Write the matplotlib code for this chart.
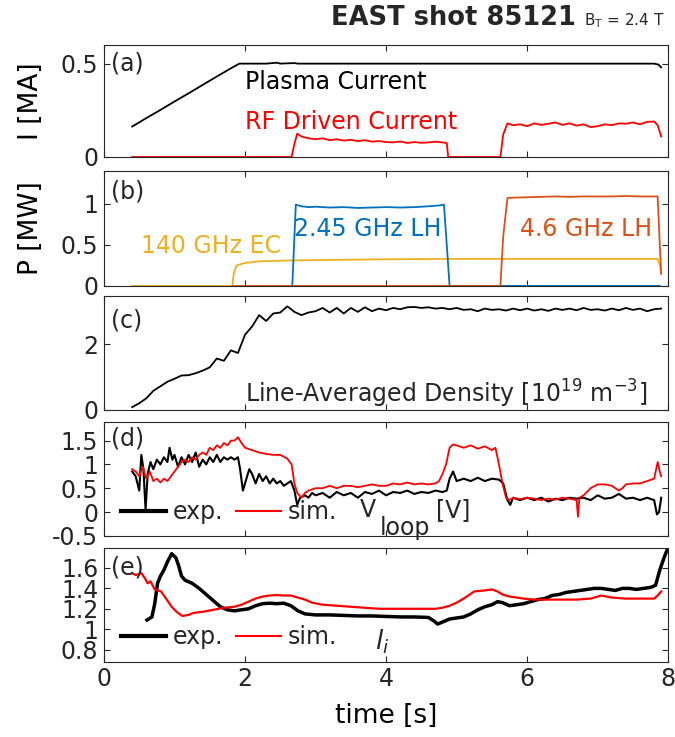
import numpy as np
import matplotlib
matplotlib.use('Agg')
from matplotlib import pyplot as plt
from matplotlib.ticker import FormatStrFormatter

# ---------------- (a) currents [MA] ----------------
t_ip = [0.40, 0.60, 0.80, 1.00, 1.20, 1.40, 1.60, 1.80, 1.92, 2.30, 2.45, 2.50, 2.70, 2.75, 3.00,
        4.00, 5.00, 6.00, 7.00, 7.80, 7.86, 7.90]
ip = [0.163, 0.208, 0.252, 0.297, 0.341, 0.386, 0.431, 0.475, 0.500, 0.500, 0.505, 0.500, 0.503,
      0.500, 0.500, 0.500, 0.500, 0.500, 0.500, 0.500, 0.495, 0.480]

t_rf = [0.40, 2.66, 2.70, 2.74, 2.80, 2.90, 3.00, 3.10, 3.20, 3.30, 3.40, 3.50, 3.60, 3.70, 3.80,
        3.90, 4.00, 4.10, 4.20, 4.30, 4.40, 4.50, 4.60, 4.70, 4.80, 4.86, 4.88, 5.62, 5.66, 5.72,
        5.80, 5.90, 6.00, 6.10, 6.20, 6.30, 6.40, 6.50, 6.60, 6.70, 6.80, 6.90, 7.00, 7.10, 7.20,
        7.30, 7.40, 7.50, 7.60, 7.70, 7.80, 7.85, 7.90]
i_rf = [0.0, 0.0, 0.07, 0.125, 0.11, 0.10, 0.095, 0.10, 0.09, 0.095, 0.088, 0.092, 0.085, 0.09,
        0.082, 0.085, 0.08, 0.078, 0.083, 0.075, 0.08, 0.076, 0.078, 0.082, 0.078, 0.075, 0.0,
        0.0, 0.12, 0.18, 0.17, 0.175, 0.165, 0.18, 0.172, 0.178, 0.185, 0.172, 0.18, 0.168, 0.175,
        0.16, 0.165, 0.175, 0.17, 0.18, 0.178, 0.185, 0.175, 0.188, 0.19, 0.17, 0.11]

# ---------------- (b) heating power [MW] ----------------
t_ec = [0.40, 1.82, 1.84, 1.88, 2.00, 2.20, 2.40, 2.60, 3.00, 3.50, 4.00, 5.00, 6.00, 7.00, 7.85,
        7.88, 7.90]
p_ec = [0.0, 0.0, 0.15, 0.25, 0.28, 0.30, 0.305, 0.31, 0.315, 0.32, 0.325, 0.33, 0.33, 0.33, 0.33,
        0.25, 0.15]

t_lh245 = [2.60, 2.67, 2.72, 2.80, 2.90, 3.00, 3.20, 3.40, 3.60, 3.80, 4.00, 4.20, 4.40, 4.60,
           4.75, 4.82, 4.86, 4.90, 7.88]
p_lh245 = [0.0, 0.0, 0.99, 0.97, 0.96, 0.965, 0.955, 0.96, 0.95, 0.955, 0.96, 0.955, 0.96, 0.97,
           0.98, 0.99, 0.5, 0.0, 0.0]

t_lh46 = [1.82, 5.62, 5.66, 5.72, 5.80, 6.00, 6.20, 6.40, 6.60, 6.80, 7.00, 7.20, 7.40, 7.60,
          7.80, 7.85, 7.88, 7.90]
p_lh46 = [0.0, 0.0, 0.6, 1.07, 1.075, 1.08, 1.085, 1.09, 1.085, 1.09, 1.09, 1.09, 1.095, 1.09,
          1.09, 1.09, 0.5, 0.15]

# ---------------- (c) line averaged density [1e19 m^-3] ----------------
t_ne = [0.4, 0.5, 0.6, 0.7, 0.8, 0.9, 1.0, 1.1, 1.2, 1.3, 1.4, 1.5, 1.6, 1.7, 1.8, 1.9, 2.0, 2.1,
        2.2, 2.3, 2.4, 2.5, 2.6, 2.7, 2.8, 2.9, 3.0, 3.1, 3.2, 3.3, 3.4, 3.5, 3.6, 3.7, 3.8, 3.9,
        4.0, 4.1, 4.2, 4.3, 4.4, 4.5, 4.6, 4.7, 4.8, 4.9, 5.0, 5.1, 5.2, 5.3, 5.4, 5.5, 5.6, 5.7,
        5.8, 5.9, 6.0, 6.1, 6.2, 6.3, 6.4, 6.5, 6.6, 6.7, 6.8, 6.9, 7.0, 7.1, 7.2, 7.3, 7.4, 7.5,
        7.6, 7.7, 7.8, 7.9]
ne = [0.08, 0.20, 0.35, 0.58, 0.72, 0.86, 0.95, 1.05, 1.06, 1.12, 1.20, 1.30, 1.57, 1.50, 1.82,
      1.74, 2.30, 2.55, 2.90, 2.72, 2.95, 2.98, 3.17, 3.00, 2.90, 2.98, 3.02, 3.12, 2.98, 3.12,
      2.95, 3.12, 3.00, 3.14, 3.02, 3.10, 3.05, 3.12, 3.08, 3.14, 3.15, 3.12, 3.14, 3.10, 3.12,
      3.08, 3.12, 3.06, 3.08, 3.02, 3.10, 3.06, 3.08, 3.04, 3.10, 3.05, 3.10, 3.04, 3.08, 3.03,
      3.10, 3.06, 3.10, 3.05, 3.12, 3.06, 3.08, 3.04, 3.10, 3.05, 3.12, 3.06, 3.10, 3.02, 3.08,
      3.10]

# ---------------- (d) loop voltage [V] ----------------
t_vexp = [0.40, 0.45, 0.50, 0.53, 0.56, 0.59, 0.62, 0.66, 0.70, 0.75, 0.80, 0.85, 0.90, 0.93,
          0.97, 1.00, 1.05, 1.10, 1.15, 1.20, 1.25, 1.30, 1.35, 1.40, 1.45, 1.50, 1.55, 1.60,
          1.65, 1.70, 1.75, 1.80, 1.85, 1.90, 1.93, 1.97, 2.02, 2.06, 2.10, 2.15, 2.20, 2.25,
          2.30, 2.35, 2.40, 2.45, 2.50, 2.55, 2.60, 2.65, 2.70, 2.74, 2.78, 2.85, 2.90, 2.95,
          3.00, 3.10, 3.20, 3.30, 3.40, 3.50, 3.60, 3.70, 3.80, 3.90, 4.00, 4.10, 4.20, 4.30,
          4.40, 4.50, 4.60, 4.70, 4.80, 4.86, 4.90, 4.95, 5.00, 5.10, 5.20, 5.30, 5.40, 5.50,
          5.60, 5.66, 5.72, 5.76, 5.80, 5.90, 6.00, 6.10, 6.20, 6.30, 6.40, 6.50, 6.60, 6.70,
          6.80, 6.90, 7.00, 7.10, 7.20, 7.30, 7.40, 7.50, 7.60, 7.70, 7.80, 7.84, 7.87, 7.90]
v_exp = [0.85, 0.75, 0.45, 1.20, 0.90, 0.05, 0.80, 1.05, 0.90, 1.10, 1.00, 1.15, 1.05, 1.35,
         1.10, 1.20, 0.95, 1.15, 1.00, 1.20, 1.05, 1.25, 0.95, 1.10, 1.00, 1.15, 1.05, 1.20,
         1.05, 1.15, 1.10, 1.15, 1.10, 1.15, 0.90, 0.45, 0.70, 0.90, 0.80, 0.60, 0.80, 0.65,
         0.75, 0.60, 0.70, 0.60, 0.65, 0.55, 0.60, 0.65, 0.45, 0.15, 0.30, 0.35, 0.30, 0.40,
         0.35, 0.40, 0.30, 0.42, 0.35, 0.40, 0.30, 0.42, 0.38, 0.45, 0.35, 0.42, 0.40, 0.45,
         0.38, 0.42, 0.40, 0.45, 0.42, 0.45, 0.70, 0.85, 0.65, 0.70, 0.65, 0.72, 0.65, 0.70,
         0.68, 0.60, 0.25, 0.15, 0.30, 0.25, 0.30, 0.25, 0.30, 0.22, 0.28, 0.25, 0.30, 0.28,
         0.30, 0.25, 0.35, 0.28, 0.30, 0.38, 0.28, 0.30, 0.25, 0.30, 0.25, -0.05, 0.00, 0.30]

t_vsim = [0.40, 0.45, 0.50, 0.55, 0.60, 0.65, 0.70, 0.75, 0.80, 0.85, 0.90, 0.95, 1.00, 1.05,
          1.10, 1.15, 1.20, 1.25, 1.30, 1.35, 1.40, 1.45, 1.50, 1.55, 1.60, 1.65, 1.70, 1.75,
          1.80, 1.85, 1.90, 1.95, 2.00, 2.10, 2.20, 2.30, 2.40, 2.50, 2.60, 2.66, 2.70, 2.74,
          2.80, 2.85, 2.90, 3.00, 3.10, 3.20, 3.30, 3.40, 3.50, 3.60, 3.70, 3.80, 3.90, 4.00,
          4.10, 4.20, 4.30, 4.40, 4.50, 4.60, 4.70, 4.75, 4.80, 4.85, 4.90, 4.95, 5.00, 5.10,
          5.20, 5.30, 5.40, 5.50, 5.55, 5.60, 5.65, 5.70, 5.75, 5.80, 5.90, 6.00, 6.10, 6.20,
          6.30, 6.40, 6.50, 6.60, 6.70, 6.72, 6.74, 6.80, 6.90, 7.00, 7.10, 7.20, 7.30, 7.35,
          7.40, 7.50, 7.60, 7.70, 7.80, 7.85, 7.88, 7.90]
v_sim = [0.90, 0.85, 0.75, 0.95, 0.70, 0.85, 0.65, 0.70, 0.62, 0.70, 0.65, 0.75, 0.85, 0.95,
         1.05, 1.10, 1.05, 1.15, 1.10, 1.20, 1.25, 1.20, 1.35, 1.30, 1.40, 1.35, 1.45, 1.40,
         1.50, 1.50, 1.57, 1.45, 1.35, 1.30, 1.25, 1.22, 1.20, 1.20, 1.12, 1.00, 0.60, 0.40,
         0.30, 0.40, 0.45, 0.50, 0.50, 0.55, 0.50, 0.55, 0.55, 0.52, 0.55, 0.58, 0.55, 0.55,
         0.60, 0.58, 0.62, 0.58, 0.60, 0.58, 0.60, 0.65, 0.80, 1.00, 1.35, 1.42, 1.40, 1.35,
         1.40, 1.33, 1.38, 1.30, 1.35, 1.00, 0.60, 0.30, 0.25, 0.30, 0.27, 0.30, 0.28, 0.25,
         0.28, 0.26, 0.30, 0.28, 0.25, -0.10, 0.30, 0.35, 0.50, 0.58, 0.58, 0.55, 0.45, 0.50,
         0.58, 0.60, 0.60, 0.65, 0.70, 1.05, 0.85, 0.75]

# ---------------- (e) internal inductance ----------------
t_liexp = [0.61, 0.68, 0.72, 0.76, 0.80, 0.85, 0.90, 0.96, 1.02, 1.06, 1.10, 1.15, 1.25, 1.35,
           1.45, 1.55, 1.65, 1.75, 1.85, 1.95, 2.05, 2.15, 2.25, 2.35, 2.45, 2.55, 2.65, 2.75,
           2.85, 3.00, 3.20, 3.40, 3.60, 3.80, 4.00, 4.20, 4.40, 4.60, 4.68, 4.73, 4.80, 4.90,
           5.00, 5.10, 5.20, 5.30, 5.40, 5.50, 5.58, 5.65, 5.75, 5.85, 5.95, 6.05, 6.15, 6.25,
           6.35, 6.45, 6.55, 6.65, 6.75, 6.85, 6.95, 7.05, 7.15, 7.25, 7.35, 7.45, 7.55, 7.65,
           7.75, 7.82, 7.88, 7.94, 7.98]
li_exp = [1.09, 1.12, 1.25, 1.45, 1.52, 1.58, 1.66, 1.74, 1.70, 1.62, 1.52, 1.48, 1.45, 1.40,
          1.34, 1.28, 1.22, 1.19, 1.18, 1.19, 1.20, 1.23, 1.25, 1.255, 1.25, 1.255, 1.23, 1.18,
          1.15, 1.14, 1.14, 1.135, 1.13, 1.13, 1.125, 1.12, 1.12, 1.115, 1.08, 1.05, 1.07, 1.10,
          1.11, 1.12, 1.15, 1.19, 1.22, 1.24, 1.27, 1.26, 1.23, 1.24, 1.25, 1.27, 1.29, 1.30,
          1.33, 1.34, 1.36, 1.37, 1.38, 1.39, 1.40, 1.40, 1.39, 1.38, 1.40, 1.40, 1.39, 1.40,
          1.41, 1.43, 1.58, 1.70, 1.77]

t_lisim = [0.40, 0.45, 0.53, 0.58, 0.62, 0.66, 0.72, 0.81, 0.90, 0.96, 1.03, 1.11, 1.20, 1.27,
           1.40, 1.55, 1.70, 1.85, 1.95, 2.05, 2.15, 2.25, 2.35, 2.45, 2.55, 2.65, 2.75, 2.85,
           2.95, 3.10, 3.30, 3.50, 3.70, 3.90, 4.10, 4.30, 4.50, 4.70, 4.80, 4.90, 5.00, 5.10,
           5.25, 5.40, 5.50, 5.58, 5.65, 5.75, 5.85, 5.95, 6.10, 6.30, 6.50, 6.70, 6.90, 7.05,
           7.20, 7.40, 7.60, 7.80, 7.85, 7.90]
li_sim = [1.55, 1.53, 1.55, 1.50, 1.45, 1.47, 1.39, 1.37, 1.28, 1.22, 1.17, 1.13, 1.14, 1.16,
          1.17, 1.19, 1.21, 1.22, 1.24, 1.27, 1.30, 1.32, 1.33, 1.335, 1.33, 1.33, 1.31, 1.29,
          1.26, 1.24, 1.23, 1.22, 1.21, 1.20, 1.20, 1.20, 1.20, 1.20, 1.21, 1.23, 1.26, 1.30,
          1.37, 1.38, 1.39, 1.37, 1.34, 1.32, 1.31, 1.30, 1.29, 1.29, 1.29, 1.29, 1.30, 1.33,
          1.31, 1.30, 1.30, 1.30, 1.33, 1.37]

# MATLAB default colour order
c_blue = '#0072BD'
c_orange = '#D95319'
c_yellow = '#EDB120'
c_axis = '#262626'

plt.rcParams['font.family'] = ['DejaVu Sans']
plt.rcParams['axes.edgecolor'] = c_axis
plt.rcParams['xtick.color'] = c_axis
plt.rcParams['ytick.color'] = c_axis
plt.rcParams['text.color'] = c_axis

fig = plt.figure(figsize=(6.75, 7.37), dpi=100)

left, width = 0.154, 0.836
boxes = [(0.787, 0.152), (0.612, 0.156), (0.444, 0.155), (0.273, 0.155), (0.102, 0.155)]
axs = [fig.add_axes([left, b, width, h]) for b, h in boxes]

for ax in axs:
    ax.set_xlim(0, 8)
    ax.set_xticks([0, 2, 4, 6, 8])
    ax.tick_params(direction='in', top=True, right=True, length=4, width=0.8,
                   labelsize=17, pad=4)
    ax.yaxis.set_major_formatter(FormatStrFormatter('%g'))
    for s in ax.spines.values():
        s.set_linewidth(0.8)
    if ax is not axs[-1]:
        ax.set_xticklabels([])

# (a)
ax = axs[0]
ax.plot(t_ip, ip, color='k', lw=1.3)
ax.plot(t_rf, i_rf, color='r', lw=1.3)
ax.set_ylim(0, 0.6)
ax.set_yticks([0, 0.5])
ax.set_ylabel('I [MA]', fontsize=19, labelpad=12)
ax.text(0.1, 0.5, '(a)', fontsize=17, va='center')
ax.text(2.0, 0.40, 'Plasma Current', fontsize=17, va='center', color='k')
ax.text(2.0, 0.19, 'RF Driven Current', fontsize=17, va='center', color='r')

# (b)
ax = axs[1]
ax.plot(t_ec, p_ec, color=c_yellow, lw=1.3)
ax.plot(t_lh245, p_lh245, color=c_blue, lw=1.3)
ax.plot(t_lh46, p_lh46, color=c_orange, lw=1.3)
ax.set_ylim(0, 1.4)
ax.set_yticks([0, 0.5, 1])
ax.set_ylabel('P [MW]', fontsize=19, labelpad=12)
ax.text(0.1, 1.15, '(b)', fontsize=17, va='center')
ax.text(0.52, 0.49, '140 GHz EC', fontsize=17, va='center', color=c_yellow)
ax.text(2.69, 0.69, '2.45 GHz LH', fontsize=17, va='center', color=c_blue)
ax.text(5.9, 0.69, '4.6 GHz LH', fontsize=17, va='center', color=c_orange)

# (c)
ax = axs[2]
ax.plot(t_ne, ne, color='k', lw=1.3)
ax.set_ylim(0, 3.5)
ax.set_yticks([0, 2])
ax.text(0.1, 2.72, '(c)', fontsize=17, va='center')
ax.text(2.0, 0.5, r'Line-Averaged Density [10$^{19}$ m$^{-3}$]', fontsize=17, va='center')

# (d)
ax = axs[3]
ax.plot(t_vexp, v_exp, color='k', lw=1.5, label='exp.')
ax.plot(t_vsim, v_sim, color='r', lw=1.3, label='sim.')
ax.set_ylim(-0.5, 1.9)
ax.set_yticks([-0.5, 0, 0.5, 1, 1.5])
ax.text(0.1, 1.55, '(d)', fontsize=17, va='center')
# V_loop label, subscript set at full size like the MATLAB tex interpreter
ax.text(3.63, 0.04, 'V', fontsize=17, va='center')
ax.text(3.91, -0.34, 'loop', fontsize=17, va='center')
ax.text(4.71, 0.04, '[V]', fontsize=17, va='center')
leg = ax.legend(loc='center left', bbox_to_anchor=(0.03, 0.208), ncol=2, frameon=False,
                fontsize=17, handlelength=1.9, handletextpad=0.28, columnspacing=0.55,
                borderpad=0, borderaxespad=0)
leg.get_lines()[0].set_linewidth(3)
leg.get_lines()[1].set_linewidth(1.5)

# (e)
ax = axs[4]
ax.plot(t_liexp, li_exp, color='k', lw=2.5, label='exp.')
ax.plot(t_lisim, li_sim, color='r', lw=1.6, label='sim.')
ax.set_ylim(0.68, 1.8)
ax.set_yticks([0.8, 1, 1.2, 1.4, 1.6])
ax.text(0.1, 1.6, '(e)', fontsize=17, va='center')
ax.text(3.84, 0.88, r'$l_i$', fontsize=19, va='center')
leg = ax.legend(loc='center left', bbox_to_anchor=(0.03, 0.214), ncol=2, frameon=False,
                fontsize=17, handlelength=1.9, handletextpad=0.28, columnspacing=0.55,
                borderpad=0, borderaxespad=0)
leg.get_lines()[0].set_linewidth(3)
leg.get_lines()[1].set_linewidth(1.5)
ax.set_xlabel('time [s]', fontsize=19, labelpad=8)

fig.text(0.672, 0.975, 'EAST shot 85121', fontsize=18.5, fontweight='bold', ha='center', va='center')
fig.text(0.985, 0.972, r'B$_\mathregular{T}$ = 2.4 T', fontsize=11, ha='right', va='center')

fig.savefig('out.png', dpi=100)
